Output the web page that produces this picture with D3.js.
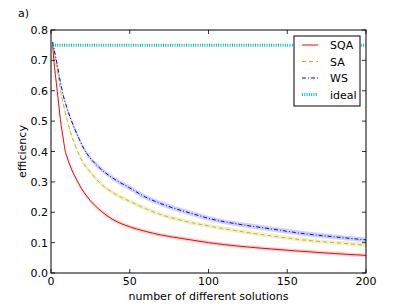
<!DOCTYPE html>
<html>
<head>
<meta charset="utf-8">
<script src="https://cdnjs.cloudflare.com/ajax/libs/d3/7.8.5/d3.min.js"></script>
<style>
  body { margin: 0; background: #fff; }
  text { font-family: "DejaVu Sans", sans-serif; fill: #000; }
</style>
</head>
<body>
<script>
// solutions count (x) and efficiency
var nSolutions = [1, 2, 3, 4, 5, 6, 8, 9, 10, 12, 15, 18, 21, 25, 30, 40, 50, 60, 70, 80, 90, 100, 120, 140, 160, 180, 200];
var sqaValues  = [0.755, 0.69, 0.643, 0.597, 0.55, 0.505, 0.435, 0.402, 0.385, 0.355, 0.32, 0.29, 0.265, 0.238, 0.212, 0.174, 0.152, 0.137, 0.125, 0.116, 0.108, 0.100, 0.088, 0.079, 0.071, 0.064, 0.058];
var saValues   = [0.76, 0.73, 0.695, 0.665, 0.635, 0.603, 0.553, 0.53, 0.508, 0.47, 0.425, 0.387, 0.358, 0.332, 0.302, 0.262, 0.236, 0.212, 0.192, 0.177, 0.165, 0.155, 0.137, 0.122, 0.109, 0.100, 0.092];
var wsValues   = [0.76, 0.735, 0.71, 0.685, 0.655, 0.628, 0.58, 0.562, 0.545, 0.515, 0.475, 0.44, 0.408, 0.378, 0.35, 0.31, 0.28, 0.25, 0.228, 0.21, 0.195, 0.18, 0.16, 0.145, 0.13, 0.119, 0.109];
var bandHalfWidth = [0.006, 0.007, 0.008];
var idealX = [1, 200];
var idealValue = 0.75;
var seriesNames = ["SQA", "SA", "WS", "ideal"];
var xTicks = [0, 50, 100, 150, 200];
var yTicks = [0.0, 0.1, 0.2, 0.3, 0.4, 0.5, 0.6, 0.7, 0.8];

var width = 407, height = 305;
var margin = {left: 51, right: 41, top: 30, bottom: 32};
var plotW = width - margin.left - margin.right;
var plotH = height - margin.top - margin.bottom;
var fontSize = 11;

var svg = d3.select("body").append("svg")
    .attr("width", width)
    .attr("height", height);

var x = d3.scaleLinear().domain([0, 200]).range([margin.left, margin.left + plotW]);
var y = d3.scaleLinear().domain([0, 0.8]).range([margin.top + plotH, margin.top]);

svg.append("clipPath").attr("id", "plotClip")
  .append("rect")
    .attr("x", margin.left).attr("y", margin.top)
    .attr("width", plotW).attr("height", plotH);

var plot = svg.append("g").attr("clip-path", "url(#plotClip)");

var series = [
    {name: "SQA", values: sqaValues, color: "#ff0000", band: "#ff9a9a", dash: null, width: 1},
    {name: "SA",  values: saValues,  color: "#bfbf00", band: "#dede9a", dash: "4,3", width: 1},
    {name: "WS",  values: wsValues,  color: "#0000ff", band: "#9a9aff", dash: "4,2,1,2", width: 1}
];

var line = d3.line()
    .curve(d3.curveMonotoneX)
    .x(function(d){ return x(d[0]); })
    .y(function(d){ return y(d[1]); });

var area = d3.area()
    .curve(d3.curveMonotoneX)
    .x(function(d){ return x(d[0]); })
    .y0(function(d){ return y(d[1] - d[2]); })
    .y1(function(d){ return y(d[1] + d[2]); });

// bands first
series.forEach(function(s, i){
    var pts = nSolutions.map(function(n, j){ return [n, s.values[j], bandHalfWidth[i]]; });
    plot.append("path")
        .attr("d", area(pts))
        .attr("fill", s.band)
        .attr("fill-opacity", 0.45)
        .attr("stroke", "none");
});

series.forEach(function(s){
    var pts = nSolutions.map(function(n, j){ return [n, s.values[j]]; });
    plot.append("path")
        .attr("d", line(pts))
        .attr("fill", "none")
        .attr("stroke", s.color)
        .attr("stroke-width", s.width)
        .attr("stroke-dasharray", s.dash);
});

// ideal line
plot.append("path")
    .attr("d", d3.line().x(function(d){ return x(d[0]); }).y(function(d){ return y(d[1]); })
        (idealX.map(function(n){ return [n, idealValue]; })))
    .attr("fill", "none")
    .attr("stroke", "#00bfbf")
    .attr("stroke-width", 3)
    .attr("stroke-dasharray", "1,1.3");

// frame
svg.append("rect")
    .attr("x", margin.left).attr("y", margin.top)
    .attr("width", plotW).attr("height", plotH)
    .attr("fill", "none").attr("stroke", "#000").attr("stroke-width", 1);

var tickLen = 4;
var ticks = svg.append("g").attr("stroke", "#000").attr("stroke-width", 0.8);
xTicks.forEach(function(t){
    ticks.append("line").attr("x1", x(t)).attr("x2", x(t))
        .attr("y1", y(0)).attr("y2", y(0) - tickLen);
    ticks.append("line").attr("x1", x(t)).attr("x2", x(t))
        .attr("y1", y(0.8)).attr("y2", y(0.8) + tickLen);
    svg.append("text")
        .attr("x", x(t)).attr("y", y(0) + 12)
        .attr("text-anchor", "middle")
        .attr("font-size", fontSize)
        .text(t);
});
yTicks.forEach(function(t){
    ticks.append("line").attr("x1", x(0)).attr("x2", x(0) + tickLen)
        .attr("y1", y(t)).attr("y2", y(t));
    ticks.append("line").attr("x1", x(200)).attr("x2", x(200) - tickLen)
        .attr("y1", y(t)).attr("y2", y(t));
    svg.append("text")
        .attr("x", x(0) - 3).attr("y", y(t) + 4)
        .attr("text-anchor", "end")
        .attr("font-size", fontSize)
        .text(t.toFixed(1));
});

svg.append("text")
    .attr("x", x(100)).attr("y", 300)
    .attr("text-anchor", "middle")
    .attr("font-size", fontSize)
    .text("number of different solutions");

svg.append("text")
    .attr("transform", "translate(26," + (margin.top + plotH / 2) + ") rotate(-90)")
    .attr("text-anchor", "middle")
    .attr("font-size", fontSize)
    .text("efficiency");

svg.append("text")
    .attr("x", 18).attr("y", 17)
    .attr("font-size", fontSize)
    .text("a)");

// legend
var legend = svg.append("g").attr("transform", "translate(294,36)");
legend.append("rect")
    .attr("width", 66).attr("height", 70)
    .attr("fill", "#fff").attr("stroke", "#000").attr("stroke-width", 1);
var legendStyles = [
    {color: "#ff0000", dash: null, width: 1},
    {color: "#bfbf00", dash: "4,3", width: 1},
    {color: "#0000ff", dash: "4,2,1,2", width: 1},
    {color: "#00bfbf", dash: "1,1.3", width: 3}
];
seriesNames.forEach(function(name, i){
    var ly = 9 + i * 16.5;
    legend.append("line")
        .attr("x1", 8).attr("x2", 24)
        .attr("y1", ly).attr("y2", ly)
        .attr("stroke", legendStyles[i].color)
        .attr("stroke-width", legendStyles[i].width)
        .attr("stroke-dasharray", legendStyles[i].dash);
    legend.append("text")
        .attr("x", 36).attr("y", ly + 4)
        .attr("font-size", fontSize)
        .text(name);
});
</script>
</body>
</html>
